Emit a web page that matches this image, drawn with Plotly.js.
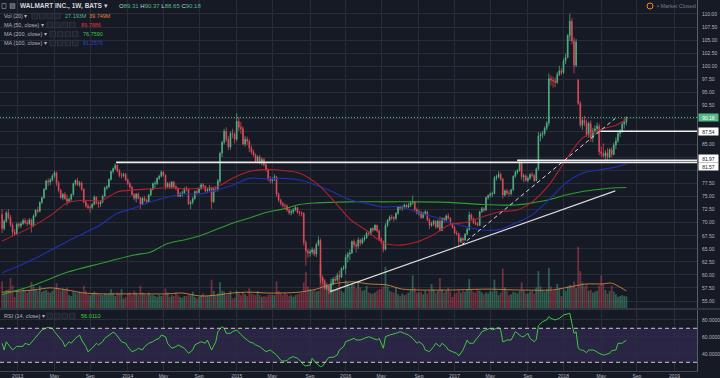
<!DOCTYPE html>
<html><head><meta charset="utf-8">
<script src="https://cdn.plot.ly/plotly-3.0.1.min.js"></script>
<style>html,body{margin:0;padding:0;background:#161a25;}#chart{width:720px;height:378px;}</style>
</head><body><div id="chart"></div>
<script>
// Weekly bars, first bar week of 2012-11-12
const firstWeek = [2012, 10, 12];
const opens = [
71.6,68.9,70.3,71.9,71.0,69.6,68.2,67.9,69.7,69.4,
69.8,70.4,70.0,69.8,70.5,69.4,71.3,72.4,72.2,73.9,
74.8,76.4,78.0,77.8,78.2,79.0,79.6,77.6,76.2,74.8,
75.4,74.6,74.1,74.5,75.4,77.5,78.1,77.3,77.6,76.4,
74.0,73.2,72.9,72.9,73.5,74.9,73.8,73.6,74.0,75.1,
76.7,76.9,78.3,79.8,80.4,81.0,79.9,79.0,79.0,79.3,
78.2,77.5,76.8,75.4,74.7,75.5,74.7,73.6,74.7,74.3,
74.0,75.3,76.4,77.5,77.5,78.5,78.9,79.7,79.1,76.9,
77.5,76.8,77.8,76.9,76.6,75.1,75.5,75.7,76.6,76.4,
73.6,73.9,74.6,76.0,75.8,76.5,77.3,77.0,76.1,76.3,
76.7,74.0,76.5,76.3,78.0,83.3,85.4,87.5,86.0,84.5,
87.1,87.0,86.0,89.4,88.3,88.0,85.1,86.0,85.6,84.3,
83.6,83.0,81.8,82.6,81.5,82.1,81.1,80.2,78.4,78.1,
78.3,78.8,75.5,74.3,73.7,73.3,73.2,72.4,71.9,72.1,
72.5,72.9,72.0,71.9,71.8,66.2,64.6,64.2,64.4,64.8,
64.0,65.8,66.6,59.5,58.9,57.4,57.9,56.9,58.2,59.2,
59.0,59.9,59.6,61.2,61.3,63.4,64.0,64.2,66.4,65.8,
65.5,66.7,66.1,66.8,67.1,68.0,67.9,68.9,68.6,69.5,
68.4,66.9,66.4,64.9,69.5,70.5,71.1,71.0,70.8,71.8,
73.0,72.8,72.9,73.4,73.0,73.3,73.8,74.0,72.5,71.8,
72.0,71.0,71.8,72.1,70.5,69.5,69.8,70.3,69.2,70.3,
68.5,70.8,70.5,71.3,70.9,69.8,69.1,68.0,67.9,66.4,
67.0,66.7,67.8,68.7,71.5,70.8,70.0,69.8,69.5,72.1,
72.7,72.4,74.8,75.2,75.5,75.6,78.6,78.8,79.3,78.4,
75.3,76.1,75.7,75.6,76.3,78.9,79.7,80.0,81.6,78.8,
79.0,78.1,78.5,79.2,79.1,78.1,80.3,86.6,86.9,87.1,
88.1,89.1,97.6,97.3,97.2,96.9,98.4,99.1,98.8,101.0,
101.7,105.9,108.6,104.8,100.2,97.3,92.9,88.7,89.6,89.2,
86.9,89.0,86.3,87.6,88.0,88.5,83.6,83.3,82.8,83.4,
82.6,84.0,83.1,84.9,85.7,87.1,87.6,88.9,89.31];
const highs = [
72.6,70.6,72.3,72.6,71.5,70.0,68.8,70.0,70.1,70.2,
70.8,70.9,70.6,70.9,70.8,71.6,72.6,73.0,74.1,75.0,
76.6,78.2,78.5,78.6,79.3,79.96,79.8,78.0,76.5,75.7,
75.9,75.4,74.8,75.6,77.7,78.3,78.6,78.0,77.9,76.6,
74.3,73.7,73.4,73.8,75.2,75.0,74.2,74.3,75.3,76.9,
77.2,78.5,80.0,80.6,81.37,81.2,80.3,79.6,79.6,79.5,
78.5,77.8,77.1,75.7,75.7,75.8,75.0,74.9,75.1,74.6,
75.5,76.6,77.7,78.0,78.7,79.2,80.0,79.9,79.3,77.8,
77.9,78.0,78.0,77.3,76.8,75.9,76.1,76.8,77.0,76.6,
74.3,75.0,76.2,76.4,76.8,77.6,77.6,77.2,76.7,77.2,
76.9,76.7,77.0,78.4,83.6,85.7,88.0,88.3,86.6,87.5,
88.0,87.3,90.97,90.3,89.3,88.5,86.6,86.5,86.0,84.8,
84.0,83.3,82.9,83.0,82.5,82.4,81.5,80.4,78.9,78.7,
79.3,79.0,75.8,74.6,74.0,73.7,73.5,72.8,72.6,72.8,
73.3,73.0,72.3,72.2,72.0,66.6,65.0,64.9,65.3,65.1,
66.2,67.4,67.0,59.9,59.2,58.4,58.2,58.6,59.6,59.8,
60.4,60.8,61.5,61.8,63.9,64.4,64.9,66.6,66.8,66.4,
67.2,67.0,67.2,67.6,68.3,68.4,69.0,69.2,69.7,69.6,
68.7,67.2,66.6,69.9,70.7,71.4,71.6,71.3,72.0,73.2,
73.3,73.3,73.7,73.6,73.8,74.2,75.2,74.2,72.9,72.5,
72.3,72.1,72.4,72.2,70.9,70.2,70.6,70.5,70.6,71.2,
71.0,71.1,71.6,71.8,71.0,70.0,69.4,68.5,68.1,67.3,
67.2,68.0,69.0,72.1,71.8,71.0,70.5,70.2,72.3,73.0,
73.0,75.0,75.4,75.8,76.0,79.0,79.2,79.9,79.6,78.6,
76.4,76.5,76.2,76.5,79.1,80.0,80.3,81.97,81.7,79.4,
79.3,78.9,79.5,79.7,79.3,80.6,87.4,87.3,87.6,88.5,
89.5,98.6,98.2,98.0,97.8,98.9,100.1,99.6,101.5,102.4,
106.2,109.98,109.2,105.5,105.2,97.6,93.3,90.0,90.5,89.8,
89.4,89.6,88.2,88.7,89.2,89.0,84.6,85.2,83.9,84.3,
84.3,84.5,85.4,86.4,87.4,87.9,89.4,89.9,90.37];
const lows = [
68.0,68.5,70.0,70.6,69.2,67.4,67.6,67.7,68.9,69.0,
69.6,69.7,69.3,69.6,68.1,69.2,71.1,71.8,72.0,73.6,
74.6,76.2,77.0,77.2,77.9,78.6,77.0,75.8,74.6,74.3,
74.4,73.3,73.8,74.2,75.2,77.1,77.0,76.8,76.1,73.7,
72.9,72.6,71.9,72.6,73.3,73.5,72.8,73.0,73.7,74.9,
76.3,76.6,78.1,79.4,80.1,79.6,78.7,78.5,78.7,78.0,
77.2,76.5,75.1,74.3,73.9,74.5,72.6,73.4,74.0,73.6,
73.8,75.1,76.2,76.6,77.2,78.2,78.7,78.8,76.3,76.6,
76.5,76.6,76.6,76.2,74.9,74.9,75.0,75.4,76.0,73.4,
72.6,73.5,74.4,75.4,75.6,76.3,76.6,75.8,75.6,76.0,
72.6,73.8,75.9,76.0,77.6,82.6,85.0,85.5,83.9,84.0,
86.2,85.2,85.6,87.6,87.0,84.8,84.6,84.9,83.5,83.1,
82.6,81.4,81.5,81.2,81.0,80.8,79.8,78.0,77.6,77.5,
78.0,75.0,74.0,73.3,72.9,72.6,72.1,71.5,71.4,71.7,
72.2,71.7,71.3,71.2,65.6,61.8,63.3,63.5,63.9,63.6,
63.4,65.5,58.4,58.2,57.2,57.0,56.3,56.5,58.0,58.5,
58.7,59.2,59.4,60.9,60.2,62.4,62.8,64.0,65.2,64.3,
65.0,65.6,65.9,66.4,66.9,67.5,67.6,68.2,68.4,68.1,
66.7,65.9,64.3,64.7,69.2,70.2,70.5,70.2,70.5,71.5,
72.4,72.3,72.7,72.6,72.8,73.0,73.5,72.3,71.6,71.4,
70.7,70.8,71.4,70.3,68.8,69.2,69.4,68.9,68.9,68.3,
68.4,70.0,70.2,70.6,69.5,68.9,67.8,67.5,65.3,66.1,
65.8,66.5,67.6,68.5,70.5,69.7,69.5,69.3,69.4,71.9,
72.0,72.3,74.4,74.8,74.9,75.4,78.1,78.5,78.0,74.6,
75.0,75.3,75.0,75.2,76.1,78.6,79.3,79.8,78.2,77.8,
77.9,77.7,78.2,78.7,77.8,77.9,80.0,85.6,86.2,86.7,
87.7,88.5,96.3,95.9,96.0,96.6,98.1,98.3,98.5,100.4,
101.5,104.8,104.2,98.6,99.8,92.6,88.3,87.8,88.5,86.4,
86.3,85.5,85.4,86.9,87.0,82.9,82.6,82.4,82.1,81.78,
82.3,82.5,82.9,84.1,85.3,86.4,87.2,88.0,88.65];
const closes = [
68.9,70.3,71.9,71.0,69.6,68.2,67.9,69.7,69.4,69.8,
70.4,70.0,69.8,70.5,69.4,71.3,72.4,72.2,73.9,74.8,
76.4,78.0,77.8,78.2,79.0,79.6,77.6,76.2,74.8,75.4,
74.6,74.1,74.5,75.4,77.5,78.1,77.3,77.6,76.4,74.0,
73.2,72.9,72.9,73.5,74.9,73.8,73.6,74.0,75.1,76.7,
76.9,78.3,79.8,80.4,81.0,79.9,79.0,79.0,79.3,78.2,
77.5,76.8,75.4,74.7,75.5,74.7,73.6,74.7,74.3,74.0,
75.3,76.4,77.5,77.5,78.5,78.9,79.7,79.1,76.9,77.5,
76.8,77.8,76.9,76.6,75.1,75.5,75.7,76.6,76.4,73.6,
73.9,74.6,76.0,75.8,76.5,77.3,77.0,76.1,76.3,76.7,
74.0,76.5,76.3,78.0,83.3,85.4,87.5,86.0,84.5,87.1,
87.0,86.0,89.4,88.3,88.0,85.1,86.0,85.6,84.3,83.6,
83.0,81.8,82.6,81.5,82.1,81.1,80.2,78.4,78.1,78.3,
78.8,75.5,74.3,73.7,73.3,73.2,72.4,71.9,72.1,72.5,
72.9,72.0,71.9,71.8,66.2,64.6,64.2,64.4,64.8,64.0,
65.8,66.6,59.5,58.9,57.4,57.9,56.9,58.2,59.2,59.0,
59.9,59.6,61.2,61.3,63.4,64.0,64.2,66.4,65.8,65.5,
66.7,66.1,66.8,67.1,68.0,67.9,68.9,68.6,69.5,68.4,
66.9,66.4,64.9,69.5,70.5,71.1,71.0,70.8,71.8,73.0,
72.8,72.9,73.4,73.0,73.3,73.8,74.0,72.5,71.8,72.0,
71.0,71.8,72.1,70.5,69.5,69.8,70.3,69.2,70.3,68.5,
70.8,70.5,71.3,70.9,69.8,69.1,68.0,67.9,66.4,67.0,
66.7,67.8,68.7,71.5,70.8,70.0,69.8,69.5,72.1,72.7,
72.4,74.8,75.2,75.5,75.6,78.6,78.8,79.3,78.4,75.3,
76.1,75.7,75.6,76.3,78.9,79.7,80.0,81.6,78.8,79.0,
78.1,78.5,79.2,79.1,78.1,80.3,86.6,86.9,87.1,88.1,
89.1,97.6,97.3,97.2,96.9,98.4,99.1,98.8,101.0,101.7,
105.9,108.6,104.8,100.2,104.6,92.9,88.7,89.6,89.2,86.9,
89.0,86.3,87.6,88.0,88.5,83.6,83.3,82.8,83.4,82.6,
84.0,83.1,84.9,85.7,87.1,87.6,88.9,89.31,90.18];
// weekly volume, millions
const volumes = [
62,36,42,44,70,52,26,42, 40,38,44,40,36,42,61,50, 44,40,52,38,40,42,38,36, 40,44,58,46,40,46,42,48,
30,28,38,36,34,38,34,52, 40,32,30,34,38,36,32,32, 30,34,32,34,44,34,28,36, 34,44,22,26,34,36,30,40,
36,30,52,36,32,30,36,30, 30,28,26,30,28,30,46,36, 26,30,28,36,30,26,24,28, 28,32,30,38,26,22,26,30,
34,28,28,30,66,40,28,34, 60,40,38,30,32,40,22,24, 40,34,30,36,32,28,46,34, 32,30,40,30,26,28,26,30,
32,30,30,62,40,34,30,36, 32,28,30,26,30,32,34,36, 60,84,50,44,40,42,38,40, 100,70,58,46,50,68,44,42,
46,70,40,36,64,60,50,58, 54,46,62,48,40,42,52,36, 34,34,36,40,44,44,50,96, 50,40,38,36,48,32,28,34,
30,32,36,44,76,46,36,36, 38,32,40,34,40,56,44,36, 40,70,44,36,40,48,38,26, 34,36,42,36,40,38,44,68,
42,38,36,44,40,36,32,36, 34,40,38,66,40,30,36,92, 48,40,30,32,38,36,34,40, 60,40,34,34,38,40,34,48,
86,50,42,38,44,93,50,40, 42,56,46,28,44,40,50,54, 50,62,46,143,86,60,50,56, 40,42,36,38,40,52,76,56,
42,34,40,52,38,32,26,28, 30,28,27.193];
// indicator lines (week index, value)
const ma50Week = [0,15,24.5,31,39,47,55,63,71,79,86,94.5,102.6,110,118,126.4,134,142,150,157.9,166,174,181.7,189.8,197.9,205.5,213.6,221.7,229.3,237.4,245.5,253,261,269,277,285,293,298];
const ma50Vals = [66.5,69.4,71.8,73.8,74.3,74.2,75.9,76.3,76.5,76.7,76.5,76.6,76.9,78.5,79.8,80.2,80.0,79.5,77.6,74.4,70.7,68.5,66.2,65.7,66.3,67.6,69.6,70.1,71.1,72.1,72.4,74.0,77.2,82.0,86.2,87.8,88.7,89.79];
const ma100Week = [0,15,31,47,55,63,71,79,86,94.5,102.6,110,118,126.4,134,142,150,158,166,174,182,190,198,205.5,213.6,221.7,229.3,237.4,245.5,253,261,269,277,285,293,298];
const ma100Vals = [60.4,63.0,66.4,69.6,71.8,72.8,74.0,74.9,75.5,75.5,76.3,77.2,78.5,78.4,78.5,78.2,77.2,75.9,74.4,73.7,73.0,73.1,72.0,71.2,70.1,69.2,68.6,68.7,70.0,71.5,74.4,77.6,79.5,80.1,80.7,81.26];
const ma200Week = [0,15,31,47,63,71,79,88,94.5,110,118,126.4,134,142,150,166,182,198,213.6,229.3,245.5,253,261,269,277,285,293,298];
const ma200Vals = [56.2,58.0,60.5,62.2,63.8,64.4,66.0,66.8,67.5,69.9,70.9,72.0,72.6,73.5,73.8,74.0,74.0,74.0,73.9,73.5,73.4,73.8,74.4,75.3,76.0,76.4,76.7,76.76];
const volMaWeek = [0,15,23,31,39,47,63,79,86,94.5,102.6,110,118,126.4,134,142,150,156,160,167.5,175.5,183.6,191,199,215,231,247,262.6,270.7,278.8,286.4,291,298];
const volMaVals = [37,42,47,42,35,33,33,33,35,28,30,35,37,35,35,37,44,54,58,61,56,54,44,42,42,44,42,42,49,56,56,58,39.7];
const rsiWeek = [0,1,2,5,7,10,11,13,15,17,19,22,24,25,27,29,30,32,33,35,37,38,40,41,43,45,46,48,49,51,53,54,56,57,59,60,62,64,65,67,68,70,72,73,75,76,78,79,81,83,84,86,87,89,91,92,94,95,97,98,100,102,103,105,106,107,109,110,112,114,115,117,118,120,121,123,125,126,128,129,131,133,134,136,137,139,141,142,144,145,147,148,150,152,153,155,156,158,160,161,163,164,166,168,169,171,173,175,177,179,180,182,183,185,188,190,192,194,196,198,199,201,202,204,206,207,209,210,212,213,215,217,218,220,222,223,225,226,228,229,231,233,234,236,237,238,239,240,241,243,245,246,248,249,251,252,254,255,256,258,260,261,262,264,266,268,270,271,272,273,274,275,276,277,279,280,282,283,285,287,288,290,291,293,294,296,298];
const rsiVals = [52.4,44.5,54.2,44.5,48.8,48.8,52.4,50.5,56.2,62.1,68.0,71.2,70,66,60.1,54.2,48.4,54.2,52.4,58.2,62.1,56.2,48.4,42.5,46.5,52.4,50.5,54.2,58.2,62.1,65.3,64.1,58.2,54.2,52.4,48.4,42.5,44.5,46.5,44.5,48.4,52.4,54.2,56.2,58.2,62.1,60.1,52.4,46.5,48.4,50.5,48.4,46.5,40.6,44.5,50.5,52.4,54.2,52.4,56.2,44.5,54.2,66.0,71.9,70,64.1,64.1,66,68,62.1,60.1,56.2,54.2,52.4,50.5,48.4,44.5,42.5,44.5,42.5,38.6,32.7,31.5,31.9,34.7,36.7,34.7,32.7,26.8,25.7,26.8,34.7,28.8,24.9,25.7,32.7,35.9,35.9,38.6,44.5,48.4,54.2,56.2,58.2,56.2,56.2,58.2,60.1,58.2,56.2,58.2,46.5,60.1,62.1,64.1,66.0,64.1,62.1,58.2,52.4,54.2,50.5,44.5,42.5,48.4,52.4,48.4,52.4,48.4,44.5,42.5,40.6,37.4,44.5,56.2,52.4,52.4,56.2,62.1,66.0,68,70,68,70,71,68,54.2,55,56.2,56.2,66,64.1,60.1,60.1,64.1,58.2,54.2,57,73,77.8,80,83.7,81.7,79.8,81.7,85.6,86.5,87.6,76,64,66,47,44.5,44.5,41.4,44.5,44.5,43.7,40.6,38.6,39,40.6,43.7,44.5,52.4,52.4,56.01];
// drawn levels and trend lines
const levelVals = [81.57, 81.97, 87.54];
const levelStart = ['2013-11-28', '2017-07-30', '2018-05-04'];
const trendSolidDates = ['2015-11-13', '2018-06-23'];
const trendSolidVals = [56.8, 76.1];
const trendDashDates = ['2017-01-25', '2018-06-23'];
const trendDashVals = [65.7, 90.0];
const lastPrice = 90.18;
const tickDates = ['2013-01-03','2013-05-06','2013-09-02','2014-01-06','2014-05-05','2014-09-01','2015-01-05','2015-05-04','2015-09-07','2016-01-04','2016-05-02','2016-09-05','2017-01-02','2017-05-01','2017-09-04','2018-01-01','2018-05-07','2018-09-03','2019-01-07'];
const tickText = ['2013','May','Sep','2014','May','Sep','2015','May','Sep','2016','May','Sep','2017','May','Sep','2018','May','Sep','2019'];
// price axis ticks; labels hidden behind the price/level boxes are left blank
const priceTicks = [55,57.5,60,62.5,65,67.5,70,72.5,75,77.5,80,82.5,85,87.5,90,92.5,95,97.5,100,102.5,105,107.5,110,112.5];
const priceTickText = ['55.00','57.50','60.00','62.50','65.00','67.50','70.00','72.50','75.00','77.50','','','85.00','','','92.50','95.00','97.50','100.00','102.50','105.00','107.50','110.00','112.50'];

function wd(k){
  const ms = Date.UTC(firstWeek[0], firstWeek[1], firstWeek[2]) + Math.round(k*7*24)*3600000;
  return new Date(ms).toISOString().slice(0,16).replace('T',' ');
}
const dates = closes.map((_, i) => wd(i));
const UP = '#53b987', DN = '#eb4d5c', GRID = '#292d3a', BG = '#161a25';
const xStart = '2012-11-05', xEnd = '2019-03-23';
const W = 697, H = 371;
const px = v => v / W, py = v => 1 - v / H;

const traces = [];
traces.push({type:'bar', x:dates, y:volumes, xaxis:'x', yaxis:'y', width:6*86400000,
  marker:{color:closes.map((c,i)=> c>=opens[i] ? 'rgba(83,185,135,0.42)' : 'rgba(235,77,92,0.42)'), line:{width:0}}, hoverinfo:'skip'});
traces.push({type:'scatter', mode:'lines', x:volMaWeek.map(wd), y:volMaVals, xaxis:'x', yaxis:'y',
  line:{color:'#d0843f', width:0.9, shape:'spline', smoothing:0.7}, hoverinfo:'skip'});
traces.push({type:'candlestick', x:dates, open:opens, high:highs, low:lows, close:closes, xaxis:'x', yaxis:'y2',
  increasing:{line:{color:UP, width:0.7}, fillcolor:UP}, decreasing:{line:{color:DN, width:0.7}, fillcolor:DN},
  whiskerwidth:0, hoverinfo:'skip'});
traces.push({type:'scatter', mode:'lines', x:ma200Week.map(wd), y:ma200Vals, xaxis:'x', yaxis:'y2', line:{color:'#2f9e2f', width:1.1, shape:'spline', smoothing:0.8}});
traces.push({type:'scatter', mode:'lines', x:ma100Week.map(wd), y:ma100Vals, xaxis:'x', yaxis:'y2', line:{color:'#2030b0', width:1.1, shape:'spline', smoothing:0.8}});
traces.push({type:'scatter', mode:'lines', x:ma50Week.map(wd), y:ma50Vals, xaxis:'x', yaxis:'y2', line:{color:'#b3202c', width:1.1, shape:'spline', smoothing:0.8}});
traces.push({type:'scatter', mode:'lines', x:trendSolidDates, y:trendSolidVals, xaxis:'x', yaxis:'y2', line:{color:'#d8d9dc', width:1.2}});
traces.push({type:'scatter', mode:'lines', x:trendDashDates, y:trendDashVals, xaxis:'x', yaxis:'y2', line:{color:'#d8d9dc', width:1, dash:'4px,3px'}});
traces.push({type:'scatter', mode:'lines', x:rsiWeek.map(wd), y:rsiVals, xaxis:'x2', yaxis:'y3', line:{color:'#3fc83f', width:1}});

const shapes = [];
shapes.push({type:'rect', xref:'paper', yref:'y3', x0:0, x1:1, y0:30, y1:70, fillcolor:'rgba(126,87,194,0.2)', line:{width:0}, layer:'below'});
[30,70].forEach(v => shapes.push({type:'line', xref:'paper', yref:'y3', x0:0, x1:1, y0:v, y1:v, line:{color:'#c9c9cf', width:1, dash:'4px,3px'}}));
shapes.push({type:'line', xref:'x', yref:'y2', x0:xStart, x1:xEnd, y0:lastPrice, y1:lastPrice, line:{color:UP, width:1, dash:'1px,2px'}});
levelVals.forEach((v,i) => shapes.push({type:'line', xref:'x', yref:'y2', x0:levelStart[i], x1:xEnd, y0:v, y1:v, line:{color:'#eeeeee', width: i===0 ? 1.8 : 1.5}}));
shapes.push({type:'line', xref:'paper', yref:'paper', x0:0, x1:720/W, y0:py(309), y1:py(309), line:{color:'#3a3e4b', width:1.5}});
// legend icon boxes
[[16,32],[25,47],[34,50],[43,50],[316,47]].forEach(([yy,xx]) => {
  for (let j=0;j<4;j++){
    const x0 = xx + j*7.5;
    shapes.push({type:'rect', xref:'paper', yref:'paper', x0:px(x0), x1:px(x0+5.5), y0:py(yy+2.8), y1:py(yy-2.8), fillcolor:'#1f2330', line:{color:'#3b3f4c', width:0.6}});
  }
});
shapes.push({type:'rect', xref:'paper', yref:'paper', x0:px(2), x1:px(6), y0:py(8.5), y1:py(3.5), fillcolor:'rgba(0,0,0,0)', line:{color:'#8a8e99', width:0.7}});
shapes.push({type:'rect', xref:'paper', yref:'paper', x0:px(10), x1:px(15), y0:py(8.5), y1:py(3.5), fillcolor:'#5a5e69', line:{color:'#8a8e99', width:0.5}});
shapes.push({type:'circle', xref:'paper', yref:'paper', x0:px(647), x1:px(653), y0:py(9), y1:py(3), line:{color:'#f08a24', width:1}});

const A = (x, y, text, size, color) => ({xref:'paper', yref:'paper', x:px(x), y:py(y), xanchor:'left', yanchor:'middle', showarrow:false, text, font:{size, color}});
const g = v => '<span style="color:' + UP + '">' + v + '</span>';
const annotations = [
  A(18, 6, '<b>WALMART INC., 1W, BATS</b> ▾', 6.5, '#d1d4dc'),
  A(117, 6, 'O' + g('89.31') + ' H' + g('90.37') + ' L' + g('88.65') + ' C' + g('90.18'), 6, '#d1d4dc'),
  A(2, 16, 'Vol (20) ▾', 5.5, '#b2b5be'),
  A(63, 16, '27.193M', 5.5, '#53b987'),
  A(87, 16, '39.749M', 5.5, '#e0843a'),
  A(2, 25, 'MA (50, close) ▾', 5.5, '#b2b5be'),
  A(79, 25, '89.7886', 5.5, '#e0303a'),
  A(2, 34, 'MA (200, close) ▾', 5.5, '#b2b5be'),
  A(81, 34, '76.7590', 5.5, '#3fc03f'),
  A(2, 43, 'MA (100, close) ▾', 5.5, '#b2b5be'),
  A(81, 43, '81.2579', 5.5, '#2c3fd8'),
  A(2, 316, 'RSI (14, close) ▾', 5.5, '#b2b5be'),
  A(79, 316, '56.0110', 5.5, '#3fd03f'),
  A(655, 6, '• Market Closed', 5.5, '#787b86')
];
const boxLabel = (v, bg, fg, shift) => ({xref:'paper', yref:'y2', x:1, y:v, xanchor:'left', yanchor:'middle', xshift:1, yshift:shift, showarrow:false,
  text:v.toFixed(2), bgcolor:bg, font:{size:5, color:fg}, borderpad:0.5, width:18});
annotations.push(boxLabel(lastPrice, UP, '#ffffff', 0));
annotations.push(boxLabel(87.54, '#ffffff', '#131722', 0));
annotations.push(boxLabel(81.97, '#ffffff', '#131722', 2));
annotations.push(boxLabel(81.57, '#ffffff', '#131722', -4));

const layout = {
  width:720, height:378, margin:{l:0, r:23, t:0, b:7},
  paper_bgcolor:BG, plot_bgcolor:BG, showlegend:false, boxgap:0.45,
  font:{family:'Liberation Sans, Arial, sans-serif', size:5, color:'#b2b5be'},
  xaxis:{type:'date', range:[xStart, xEnd], anchor:'y', tickmode:'array', tickvals:tickDates, showticklabels:false, ticks:'',
    showgrid:true, gridcolor:GRID, gridwidth:1, zeroline:false, showline:false, rangeslider:{visible:false}, fixedrange:true},
  xaxis2:{type:'date', range:[xStart, xEnd], anchor:'y3', tickmode:'array', tickvals:tickDates, ticktext:tickText, ticks:'',
    showgrid:true, gridcolor:GRID, gridwidth:1, zeroline:false, showline:true, linecolor:'#454955', linewidth:1,
    tickfont:{size:5, color:'#b2b5be'}, fixedrange:true},
  yaxis:{domain:[1-308/H, 1], range:[0, 718], visible:false, fixedrange:true},
  yaxis2:{overlaying:'y', anchor:'x', side:'right', range:[53.66, 112.68], tickmode:'array', tickvals:priceTicks, ticktext:priceTickText,
    showgrid:true, gridcolor:GRID, gridwidth:1, zeroline:false, showline:true, linecolor:'#5a5e6a', linewidth:1,
    ticks:'outside', ticklen:3, tickcolor:'rgba(0,0,0,0)', tickfont:{size:5, color:'#b2b5be'}, fixedrange:true},
  yaxis3:{domain:[0, 1-310/H], anchor:'x2', side:'right', range:[19.8, 91.5], tickmode:'array', tickvals:[40,60,80],
    ticktext:['40.0000','60.0000','80.0000'], showgrid:true, gridcolor:'#2a2d3d', zeroline:false, showline:true,
    linecolor:'#5a5e6a', linewidth:1, ticks:'outside', ticklen:3, tickcolor:'rgba(0,0,0,0)', tickfont:{size:5, color:'#b2b5be'}, fixedrange:true},
  shapes, annotations
};
Plotly.newPlot('chart', traces, layout, {displayModeBar:false, staticPlot:true});
</script>
</body></html>
